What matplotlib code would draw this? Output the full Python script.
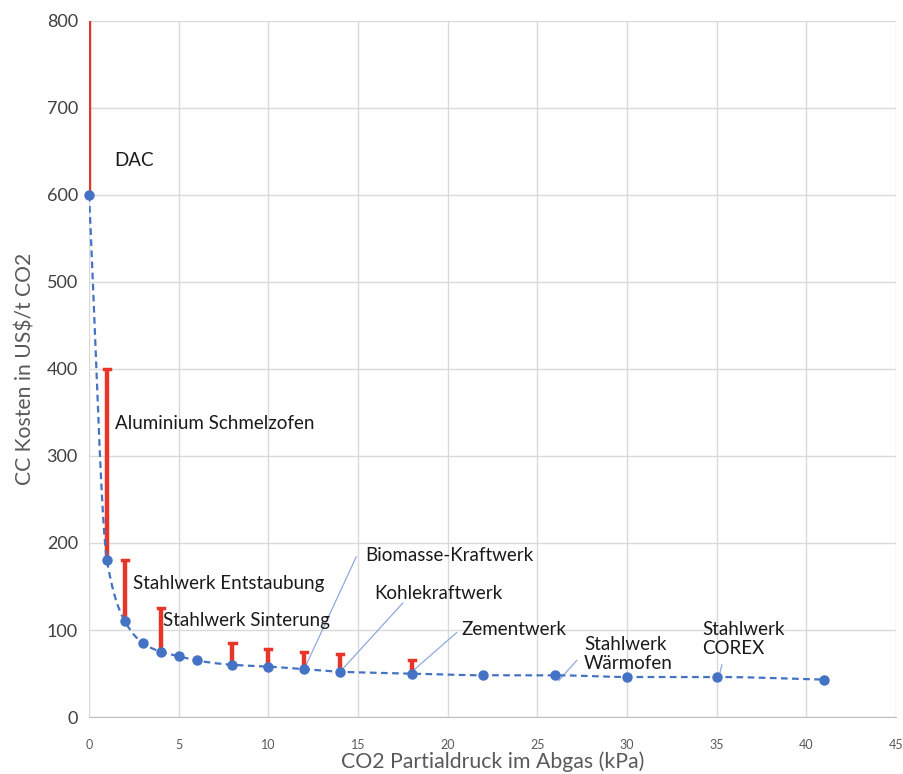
import matplotlib
matplotlib.use("Agg")
import matplotlib.pyplot as plt
import numpy as np

plt.rcParams['font.family'] = ['Lato', 'DejaVu Sans']

# Data
pressure = [0, 1, 2, 3, 4, 5, 6, 8, 10, 12, 14, 18, 22, 26, 30, 35, 41]
cost = [600, 180, 110, 85, 75, 70, 65, 60, 58, 55, 52, 50, 48, 48, 46, 46, 43]

err_x = [0, 1, 2, 4, 8, 10, 12, 14, 18]
err_low = [600, 180, 110, 75, 60, 58, 55, 52, 50]
err_high = [850, 400, 180, 125, 85, 78, 75, 72, 65]

labels = ["DAC", "Aluminium Schmelzofen", "Stahlwerk Entstaubung", "Stahlwerk Sinterung",
          "Biomasse-Kraftwerk", "Kohlekraftwerk", "Zementwerk",
          "Stahlwerk\nWärmofen", "Stahlwerk\nCOREX"]
label_pos = [(1.4, 640), (1.45, 337), (2.45, 154), (4.1, 111),
             (15.4, 186), (15.9, 142), (20.75, 101), (27.6, 72), (34.2, 90)]
# leader lines: (from point x, y) -> (to x, y)
leaders = [((12, 55), (14.9, 184)), ((14, 52), (17.5, 131)), ((18, 52), (20.5, 97)),
           ((26.2, 42), (27.2, 65)), ((35.1, 44), (35.3, 60))]


def smooth_path(xs, ys, n=40):
    """Smoothed line through the given points (monotone cubic Hermite)."""
    xs = np.asarray(xs, float)
    ys = np.asarray(ys, float)
    h = np.diff(xs)
    delta = np.diff(ys) / h
    m = len(xs)
    d = np.zeros(m)
    for k in range(1, m - 1):
        if delta[k - 1] * delta[k] > 0:
            w1 = 2 * h[k] + h[k - 1]
            w2 = h[k] + 2 * h[k - 1]
            d[k] = (w1 + w2) / (w1 / delta[k - 1] + w2 / delta[k])
        else:
            d[k] = 0.0
    d[0] = delta[0]
    d[-1] = delta[-1]
    px, py = [], []
    t = np.linspace(0, 1, n)
    for i in range(m - 1):
        h00 = 2 * t ** 3 - 3 * t ** 2 + 1
        h10 = t ** 3 - 2 * t ** 2 + t
        h01 = -2 * t ** 3 + 3 * t ** 2
        h11 = t ** 3 - t ** 2
        bx = xs[i] + t * h[i]
        by = h00 * ys[i] + h10 * h[i] * d[i] + h01 * ys[i + 1] + h11 * h[i] * d[i + 1]
        px.extend(bx if i == 0 else bx[1:])
        py.extend(by if i == 0 else by[1:])
    return np.array(px), np.array(py)


fig = plt.figure(figsize=(9.04, 7.74), dpi=100)
ax = fig.add_axes([0.0985, 0.0736, 0.8925, 0.8994])

grid_c = '#d9d9d9'
ax.set_xlim(0, 45)
ax.set_ylim(0, 800)
ax.set_xticks(np.arange(0, 46, 5))
ax.set_yticks(np.arange(0, 801, 100))
ax.grid(True, color=grid_c, linewidth=1)
ax.set_axisbelow(True)
for s in ['top', 'right', 'left']:
    ax.spines[s].set_visible(False)
ax.spines['bottom'].set_color('#bfbfbf')
ax.tick_params(axis='both', length=0)
ax.tick_params(axis='x', labelsize=9, colors='#595959', pad=16)
ax.tick_params(axis='y', labelsize=13, colors='#404040', pad=8)

# error bars (upper only)
red = '#e8352a'
for x, lo, hi in zip(err_x, err_low, err_high):
    ax.plot([x, x], [lo, hi], color=red, linewidth=3.2, solid_capstyle='butt', zorder=3)
    ax.plot([x - 0.17, x + 0.17], [hi, hi], color=red, linewidth=2.5, zorder=3)

blue = '#4472c4'
sx, sy = smooth_path(pressure, cost)
ax.plot(sx, sy, linestyle=(0, (3, 2)), color=blue, linewidth=1.6, zorder=4)
ax.plot(pressure, cost, linestyle='none', marker='o', markersize=6.5, color=blue, zorder=5,
        clip_on=False)

for (p0, p1) in leaders:
    ax.plot([p0[0], p1[0]], [p0[1], p1[1]], color='#8faadc', linewidth=0.9, zorder=2)

for lab, (x, y) in zip(labels, label_pos):
    ax.text(x, y, lab, fontsize=13.5, color='#1a1a1a', ha='left', va='center',
            linespacing=1.15, zorder=6)

ax.set_xlabel("CO2 Partialdruck im Abgas (kPa)", fontsize=15.3, color='#595959', labelpad=0)
ax.set_ylabel("CC Kosten in US$/t CO2", fontsize=15.2, color='#595959', labelpad=8)

fig.savefig("out.png", dpi=100, facecolor='white')
